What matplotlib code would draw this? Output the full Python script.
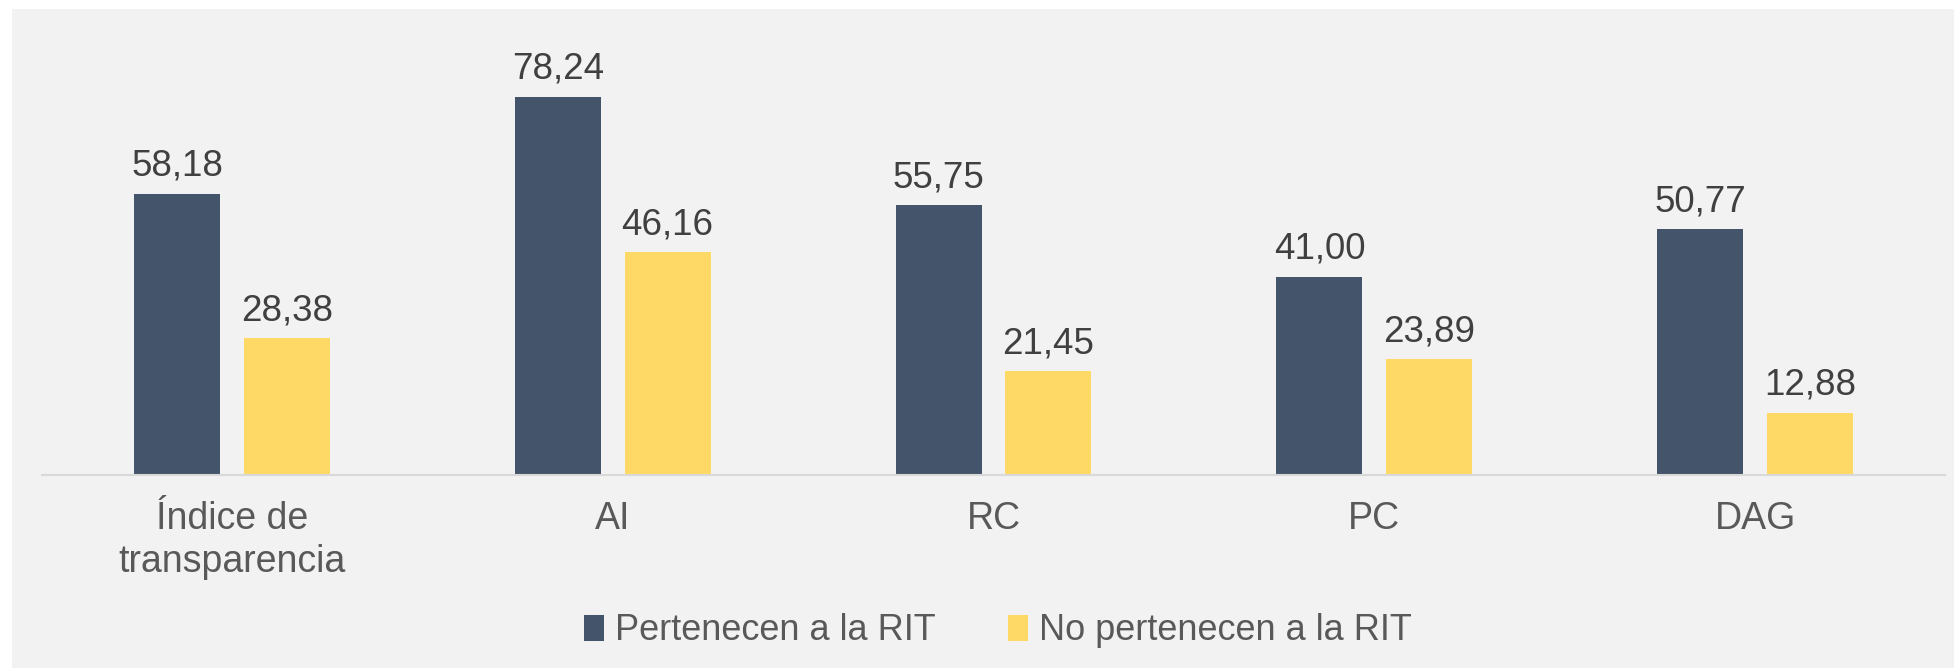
import numpy as np
import matplotlib.pyplot as plt
from matplotlib.patches import Rectangle

plt.rcParams['font.family'] = ['Liberation Sans', 'DejaVu Sans']

categories = ['Índice de\ntransparencia', 'AI', 'RC', 'PC', 'DAG']
rit = [58.18, 78.24, 55.75, 41.00, 50.77]
no_rit = [28.38, 46.16, 21.45, 23.89, 12.88]
series_names = ['Pertenecen a la RIT', 'No pertenecen a la RIT']

dark = '#44546A'
yellow = '#FFD966'
bg = '#F2F2F2'

fig = plt.figure(figsize=(19.54, 6.68), dpi=100)
fig.patch.set_facecolor('white')
fig.patches.append(Rectangle((12 / 1954, 0), 1, 1 - 9 / 668, transform=fig.transFigure,
                             facecolor=bg, edgecolor='none', zorder=-10))

ax = fig.add_axes([41.6 / 1954, (668 - 475) / 668, 1903.8 / 1954, 445 / 668])
ax.set_facecolor('none')

x = np.arange(len(categories))
w = 0.226
off = 0.144
b1 = ax.bar(x - off, rit, w, color=dark, label=series_names[0])
b2 = ax.bar(x + off, no_rit, w, color=yellow, label=series_names[1])

for bars, vals in ((b1, rit), (b2, no_rit)):
    for b, v in zip(bars, vals):
        ax.annotate(f'{v:.2f}'.replace('.', ','), (b.get_x() + b.get_width() / 2, v),
                    xytext=(0, 7), textcoords='offset points', ha='center', va='bottom',
                    fontsize=26.5, color='#404040')

ax.set_xlim(-0.5, len(categories) - 0.5)
ax.set_ylim(0, 92)
ax.set_yticks([])
ax.set_xticks(x)
ax.set_xticklabels(categories, fontsize=27, color='#595959', linespacing=1.25)
ax.tick_params(axis='x', length=0, pad=19)
for s in ['top', 'right', 'left']:
    ax.spines[s].set_visible(False)
ax.spines['bottom'].set_color('#D9D9D9')
ax.spines['bottom'].set_linewidth(1.5)

fig.legend(loc='center', bbox_to_anchor=(998 / 1954, 1 - 631 / 668), ncol=2, frameon=False,
           fontsize=26, labelcolor='#595959', handlelength=0.55, handleheight=0.75,
           handletextpad=0.3, columnspacing=2.0)

fig.savefig('out.png', dpi=100)
